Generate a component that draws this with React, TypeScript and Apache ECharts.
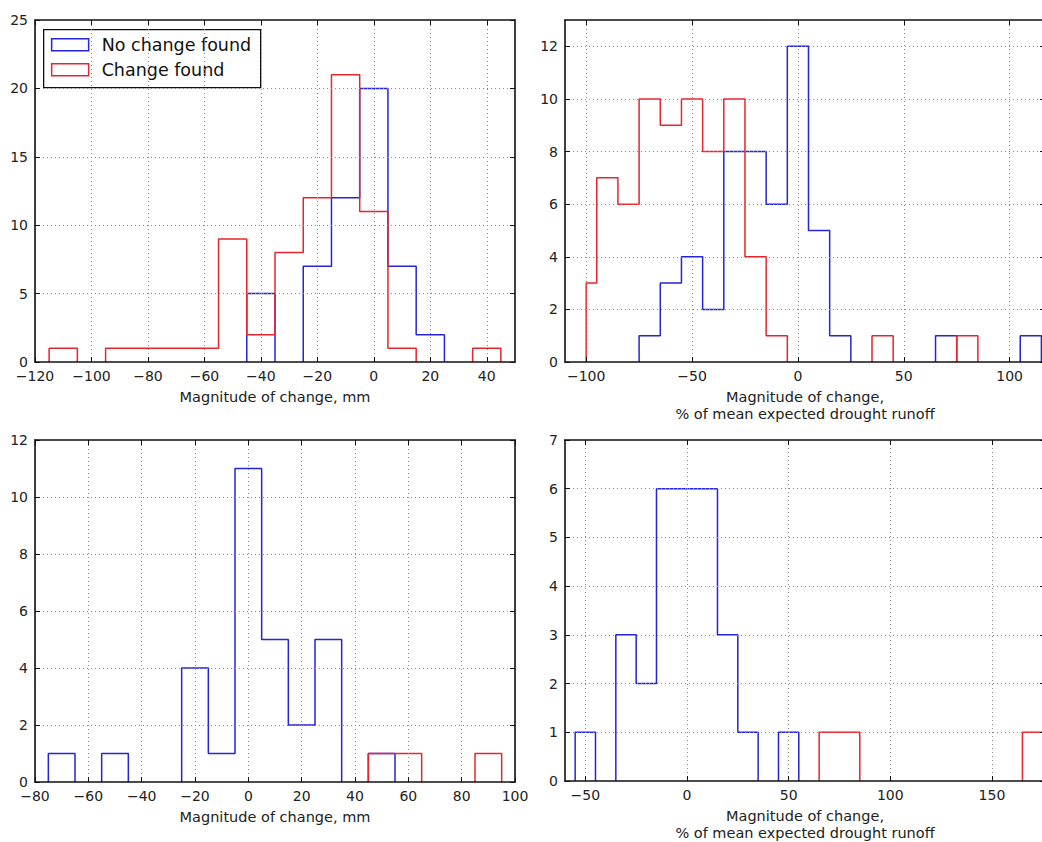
import React, { useEffect, useRef } from "react";
import * as echarts from "echarts";

// ---------- colours ----------
const BLUE = "#2424d8";
const RED = "#e5262c";

// ---------- names ----------
const legendNames = ["No change found", "Change found"];
const xNameMm = "Magnitude of change, mm";
const xNamePct = "Magnitude of change,\n% of mean expected drought runoff";

// ---------- panel A (top-left, mm) ----------
const aXTicks = [-120, -100, -80, -60, -40, -20, 0, 20, 40];
const aYTicks = [0, 5, 10, 15, 20, 25];
const aBlueEdges = [-45, -35, -25, -15, -5, 5, 15, 25];
const aBlueCounts = [5, 0, 7, 12, 20, 7, 2];
const aRedEdges = [-115, -105, -95, -85, -75, -65, -55, -45, -35, -25, -15, -5, 5, 15, 25, 35, 45];
const aRedCounts = [1, 0, 1, 1, 1, 1, 9, 2, 8, 12, 21, 11, 1, 0, 0, 1];

// ---------- panel B (top-right, %) ----------
const bXTicks = [-100, -50, 0, 50, 100];
const bYTicks = [0, 2, 4, 6, 8, 10, 12];
const bBlueEdges = [-75, -65, -55, -45, -35, -25, -15, -5, 5, 15, 25, 35, 45, 55, 65, 75, 85, 95, 105, 115];
const bBlueCounts = [1, 3, 4, 2, 8, 8, 6, 12, 5, 1, 0, 0, 0, 0, 1, 0, 0, 0, 1];
const bRedEdges = [-100, -95, -85, -75, -65, -55, -45, -35, -25, -15, -5, 5, 15, 25, 35, 45, 55, 65, 75, 85];
const bRedCounts = [3, 7, 6, 10, 9, 10, 8, 10, 4, 1, 0, 0, 0, 0, 1, 0, 0, 0, 1];

// ---------- panel C (bottom-left, mm) ----------
const cXTicks = [-80, -60, -40, -20, 0, 20, 40, 60, 80, 100];
const cYTicks = [0, 2, 4, 6, 8, 10, 12];
const cBlueEdges = [-75, -65, -55, -45, -35, -25, -15, -5, 5, 15, 25, 35, 45, 55];
const cBlueCounts = [1, 0, 1, 0, 0, 4, 1, 11, 5, 2, 5, 0, 1];
const cRedEdges = [45, 55, 65, 75, 85, 95];
const cRedCounts = [1, 1, 0, 0, 1];

// ---------- panel D (bottom-right, %) ----------
const dXTicks = [-50, 0, 50, 100, 150];
const dYTicks = [0, 1, 2, 3, 4, 5, 6, 7];
const dBlueEdges = [-55, -45, -35, -25, -15, -5, 5, 15, 25, 35, 45, 55];
const dBlueCounts = [1, 0, 3, 2, 6, 6, 6, 3, 1, 0, 1];
const dRedEdges = [65, 75, 85, 95, 105, 115, 125, 135, 145, 155, 165, 175];
const dRedCounts = [1, 1, 0, 0, 0, 0, 0, 0, 0, 0, 1];

// step-outline (matplotlib histtype="step") from bin edges and counts;
// runs of empty bins lie on the baseline (hidden by the axis spine), so they become gaps
function outline(edges: number[], counts: number[]): any[] {
  const pts: any[] = [];
  let open = false;
  counts.forEach((c, i) => {
    if (c > 0) {
      if (!open) {
        pts.push([edges[i], 0]);
        open = true;
      }
      pts.push([edges[i], c]);
      pts.push([edges[i + 1], c]);
    } else if (open) {
      pts.push([edges[i], 0]);
      pts.push("-");
      open = false;
    }
  });
  if (open) pts.push([edges[edges.length - 1], 0]);
  return pts;
}

const FONT = "'DejaVu Sans', 'Liberation Sans', sans-serif";
const fmt = (v: number) => (v < 0 ? "\u2212" + Math.abs(v) : String(v));

const panels = [
  { grid: { left: 35, top: 20, width: 480, height: 342 }, xMin: -120, xMax: 50, yMax: 25, xTicks: aXTicks, yTicks: aYTicks, xName: xNameMm,
    blue: outline(aBlueEdges, aBlueCounts), red: outline(aRedEdges, aRedCounts) },
  { grid: { left: 565, top: 20, width: 480, height: 342 }, xMin: -110, xMax: 116.7, yMax: 13, xTicks: bXTicks, yTicks: bYTicks, xName: xNamePct,
    blue: outline(bBlueEdges, bBlueCounts), red: outline(bRedEdges, bRedCounts) },
  { grid: { left: 35, top: 440, width: 480, height: 342 }, xMin: -80, xMax: 100, yMax: 12, xTicks: cXTicks, yTicks: cYTicks, xName: xNameMm,
    blue: outline(cBlueEdges, cBlueCounts), red: outline(cRedEdges, cRedCounts) },
  { grid: { left: 565, top: 440, width: 480, height: 342 }, xMin: -60, xMax: 176.1, yMax: 7, xTicks: dXTicks, yTicks: dYTicks, xName: xNamePct,
    blue: outline(dBlueEdges, dBlueCounts), red: outline(dRedEdges, dRedCounts) },
];

function buildOption() {
  const grids: any[] = [];
  const xAxes: any[] = [];
  const yAxes: any[] = [];
  const series: any[] = [];
  const axisLine = { show: true, onZero: false, lineStyle: { color: "#111", width: 1.6 } };
  const tickStyle = { color: "#111", width: 1 };
  const labelStyle = { fontSize: 14, color: "#222", fontFamily: FONT };

  panels.forEach((p, i) => {
    grids.push({ ...p.grid, containLabel: false });
    // bottom x
    xAxes.push({
      type: "value", gridIndex: i, position: "bottom", min: p.xMin, max: p.xMax, z: 10,
      axisLine,
      axisTick: { show: true, inside: true, length: 5, customValues: p.xTicks, lineStyle: tickStyle },
      axisLabel: { show: true, customValues: p.xTicks, formatter: fmt, margin: 7, ...labelStyle },
      splitLine: { show: false },
      name: p.xName, nameLocation: "middle", nameGap: 26,
      nameTextStyle: { fontSize: 14.5, lineHeight: 17, color: "#222", fontFamily: FONT },
    });
    // top x (ticks only)
    xAxes.push({
      type: "value", gridIndex: i, position: "top", min: p.xMin, max: p.xMax, z: 10,
      axisLine,
      axisTick: { show: true, inside: true, length: 5, customValues: p.xTicks, lineStyle: tickStyle },
      axisLabel: { show: false },
      splitLine: { show: false },
    });
    // left y
    yAxes.push({
      type: "value", gridIndex: i, position: "left", min: 0, max: p.yMax, z: 10,
      axisLine,
      axisTick: { show: true, inside: true, length: 5, customValues: p.yTicks, lineStyle: tickStyle },
      axisLabel: { show: true, customValues: p.yTicks, formatter: fmt, margin: 7, ...labelStyle },
      splitLine: { show: false },
    });
    // right y (ticks only)
    yAxes.push({
      type: "value", gridIndex: i, position: "right", min: 0, max: p.yMax, z: 10,
      axisLine,
      axisTick: { show: true, inside: true, length: 5, customValues: p.yTicks, lineStyle: tickStyle },
      axisLabel: { show: false },
      splitLine: { show: false },
    });
    // dotted grid lines at the tick values
    const gridLines = [
      ...p.xTicks.map((v) => ({ xAxis: v })),
      ...p.yTicks.filter((v) => v > 0 && v < p.yMax).map((v) => ({ yAxis: v })),
    ];
    series.push({
      type: "line", name: legendNames[0], xAxisIndex: 2 * i, yAxisIndex: 2 * i,
      data: p.blue, showSymbol: false, symbol: "none", clip: true, silent: true, connectNulls: false,
      lineStyle: { color: BLUE, width: 1.5 }, itemStyle: { color: BLUE }, z: 3,
      markLine: {
        silent: true, symbol: ["none", "none"], animation: false,
        label: { show: false }, emphasis: { disabled: true },
        lineStyle: { color: "#8a8a8a", width: 1, type: [1, 3] },
        data: gridLines,
      },
    });
    series.push({
      type: "line", name: legendNames[1], xAxisIndex: 2 * i, yAxisIndex: 2 * i,
      data: p.red, showSymbol: false, symbol: "none", clip: true, silent: true, connectNulls: false,
      lineStyle: { color: RED, width: 1.5 }, itemStyle: { color: RED }, z: 4,
    });
  });

  const legendGraphic = {
    type: "group", left: 43, top: 29, z: 100,
    children: [
      { type: "rect", shape: { x: 0, y: 0, width: 217, height: 58 }, style: { fill: "#fff", stroke: "#111", lineWidth: 1.3 } },
      { type: "rect", shape: { x: 8, y: 9, width: 37, height: 12 }, style: { fill: "#fff", stroke: BLUE, lineWidth: 1.5 } },
      { type: "text", x: 58, y: 15, style: { text: legendNames[0], fontSize: 17.5, fontFamily: FONT, fill: "#111", verticalAlign: "middle", align: "left" } },
      { type: "rect", shape: { x: 8, y: 34, width: 37, height: 12 }, style: { fill: "#fff", stroke: RED, lineWidth: 1.5 } },
      { type: "text", x: 58, y: 40.5, style: { text: legendNames[1], fontSize: 17.5, fontFamily: FONT, fill: "#111", verticalAlign: "middle", align: "left" } },
    ],
  };

  return {
    animation: false,
    backgroundColor: "#fff",
    textStyle: { fontFamily: FONT },
    grid: grids,
    xAxis: xAxes,
    yAxis: yAxes,
    series,
    graphic: [legendGraphic],
  };
}

export default function App() {
  const ref = useRef<HTMLDivElement | null>(null);
  useEffect(() => {
    if (!ref.current) return;
    const chart = echarts.init(ref.current, undefined, { renderer: "svg" });
    chart.setOption(buildOption() as any);
    return () => chart.dispose();
  }, []);
  return (
    <div style={{ position: "fixed", left: 0, top: 0, width: 1042, height: 842, overflow: "hidden", background: "#fff" }}>
      <div ref={ref} style={{ width: 1060, height: 842 }} />
    </div>
  );
}
